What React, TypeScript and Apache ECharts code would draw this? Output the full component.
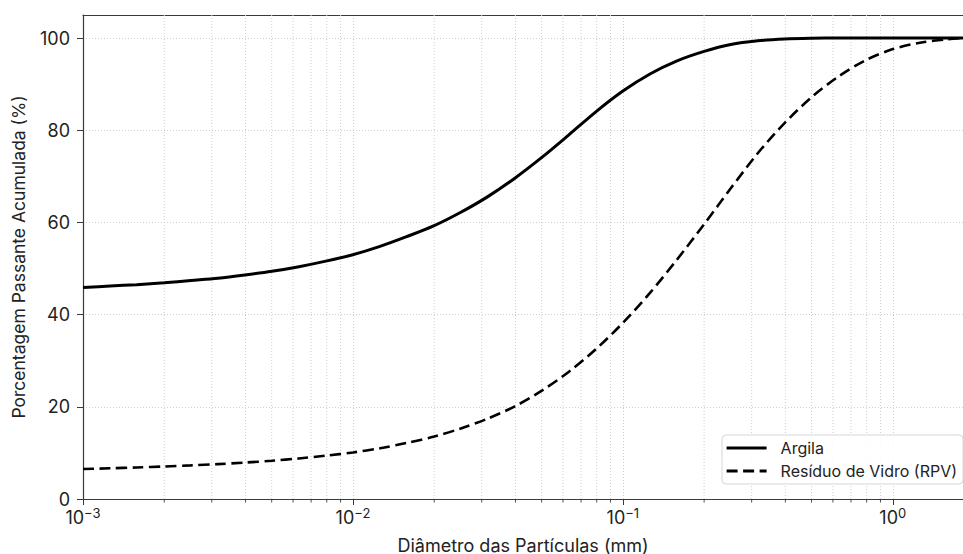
import React, { useEffect, useRef } from "react";
import * as echarts from "echarts";

const diametersArgila = [0.001, 0.00126, 0.00158, 0.002, 0.00251, 0.00316, 0.00398, 0.00501, 0.00631, 0.00794, 0.01, 0.0126, 0.0158, 0.02, 0.0251, 0.0316, 0.0398, 0.0501, 0.0631, 0.0794, 0.1, 0.126, 0.158, 0.2, 0.251, 0.316, 0.398, 0.501, 0.631, 1, 1.82];
const passingArgila = [45.9, 46.2, 46.5, 46.9, 47.4, 47.9, 48.6, 49.4, 50.4, 51.6, 53.0, 54.8, 56.9, 59.3, 62.2, 65.6, 69.6, 74.1, 79.0, 84.0, 88.5, 92.2, 95.0, 97.1, 98.6, 99.4, 99.8, 99.95, 100, 100, 100];

const diametersRPV = [0.001, 0.00126, 0.00158, 0.002, 0.00251, 0.00316, 0.00398, 0.00501, 0.00631, 0.00794, 0.01, 0.0126, 0.0158, 0.02, 0.0251, 0.0316, 0.0398, 0.0501, 0.0631, 0.0794, 0.1, 0.126, 0.158, 0.2, 0.251, 0.316, 0.398, 0.501, 0.631, 0.794, 1, 1.26, 1.58, 1.82];
const passingRPV = [6.5, 6.66, 6.84, 7.05, 7.29, 7.57, 7.9, 8.3, 8.8, 9.4, 10.1, 11.0, 12.15, 13.55, 15.3, 17.45, 20.1, 23.5, 27.6, 32.5, 38.2, 44.7, 51.8, 59.6, 67.4, 75.0, 81.6, 87.2, 91.7, 95.2, 97.6, 99.0, 99.7, 100];

const seriesNames = ["Argila", "Resíduo de Vidro (RPV)"];
const X_MIN = 0.001;
const X_MAX = 1.82;
const Y_MIN = 0;
const Y_MAX = 105;
const Y_INTERVAL = 20;
const decades = [0.001, 0.01, 0.1, 1];
const minorMultipliers = [2, 3, 4, 5, 6, 7, 8, 9];

const FONT = "Inter";

export default function App() {
  const ref = useRef<HTMLDivElement>(null);
  useEffect(() => {
    document.body.style.margin = "0";
    if (!ref.current) return;
    const chart = echarts.init(ref.current, undefined, { renderer: "svg" });
    const minorTicks: number[] = [];
    decades.forEach((d) =>
      minorMultipliers.forEach((m) => {
        const v = d * m;
        if (v > X_MIN && v < X_MAX) minorTicks.push(v);
      })
    );
    const gridColor = "#cfcfcf";
    const axisColor = "#3a3a3a";
    const textColor = "#222";
    const solidStyle = { color: "#000", width: 3, type: "solid" };
    const dashedStyle = { color: "#000", width: 2.6, type: [11, 5.5] };
    const option: any = {
      animation: false,
      textStyle: { fontFamily: FONT },
      grid: { left: 83, right: 0, top: 15, bottom: 55, containLabel: false, outerBoundsMode: "none" },
      legend: {
        data: [
          { name: seriesNames[0], lineStyle: { width: 3.2 } },
          { name: seriesNames[1], lineStyle: { width: 2.8 } },
        ],
        orient: "vertical",
        left: 722,
        top: 435,
        padding: [5, 6, 5, 3],
        itemWidth: 40,
        itemHeight: 14,
        itemGap: 7,
        itemStyle: { opacity: 0 },
        backgroundColor: "rgba(255,255,255,0.85)",
        borderColor: "#d6d6d6",
        borderWidth: 1,
        borderRadius: 4,
        textStyle: { fontFamily: FONT, fontSize: 16, color: textColor, padding: [0, 0, 0, 9] },
      },
      xAxis: [
        {
          type: "log",
          logBase: 10,
          min: X_MIN,
          max: X_MAX,
          name: "Diâmetro das Partículas (mm)",
          nameLocation: "middle",
          nameGap: 37,
          nameTextStyle: { fontFamily: FONT, fontSize: 18, color: textColor },
          axisLine: { show: true, lineStyle: { color: axisColor, width: 1.2 } },
          axisTick: { show: true, inside: false, length: 6, lineStyle: { color: axisColor } },
          axisLabel: {
            margin: 7,
            fontFamily: FONT,
            fontSize: 18,
            color: textColor,
            showMaxLabel: false,
            formatter: (v: number) => {
              const e = Math.round(Math.log10(v));
              if (Math.abs(Math.log10(v) - e) > 1e-6) return "";
              return `10{sup|${e < 0 ? "\u2212" + Math.abs(e) : e}}`;
            },
            rich: {
              sup: { fontSize: 13, verticalAlign: "top", padding: [0, 0, 9, 0], fontFamily: FONT, color: textColor },
            },
          },
          splitLine: { show: true, lineStyle: { color: gridColor, type: [1, 2], width: 1 } },
        },
        {
          type: "log",
          logBase: 10,
          min: X_MIN,
          max: X_MAX,
          position: "top",
          axisLine: { show: true, onZero: false, lineStyle: { color: axisColor, width: 1.2 } },
          axisTick: { show: false },
          axisLabel: { show: false },
          splitLine: { show: false },
        },
      ],
      yAxis: {
        type: "value",
        min: Y_MIN,
        max: Y_MAX,
        interval: Y_INTERVAL,
        name: "Porcentagem Passante Acumulada (%)",
        nameLocation: "middle",
        nameGap: 56,
        nameTextStyle: { fontFamily: FONT, fontSize: 17.5, color: textColor },
        axisLine: { show: true, lineStyle: { color: axisColor, width: 1.2 } },
        axisTick: { show: true, inside: false, length: 6, lineStyle: { color: axisColor } },
        axisLabel: {
          margin: 13,
          fontFamily: FONT,
          fontSize: 18,
          color: textColor,
          showMaxLabel: false,
          formatter: (v: number) => (v % Y_INTERVAL === 0 ? String(v) : ""),
        },
        splitLine: { show: true, lineStyle: { color: gridColor, type: [1, 2], width: 1 } },
      },
      series: [
        {
          type: "custom",
          xAxisIndex: 0,
          yAxisIndex: 0,
          silent: true,
          clip: false,
          z: 1,
          data: minorTicks.map((v) => [v]),
          encode: { x: 0 },
          renderItem: (params: any, api: any) => {
            const x = api.value(0);
            const top = api.coord([x, Y_MAX]);
            const bot = api.coord([x, Y_MIN]);
            return {
              type: "group",
              children: [
                {
                  type: "line",
                  shape: { x1: top[0], y1: top[1], x2: bot[0], y2: bot[1] },
                  style: { stroke: gridColor, lineWidth: 1, lineDash: [1, 2] },
                },
                {
                  type: "line",
                  shape: { x1: bot[0], y1: bot[1], x2: bot[0], y2: bot[1] + 3.5 },
                  style: { stroke: axisColor, lineWidth: 0.9 },
                },
              ],
            };
          },
        },
        {
          name: seriesNames[0],
          type: "line",
          data: diametersArgila.map((d, i) => [d, passingArgila[i]]),
          showSymbol: false,
          symbol: "none",
          smooth: 0.3,
          z: 3,
          lineStyle: solidStyle,
          itemStyle: { color: "#000" },
        },
        {
          name: seriesNames[1],
          type: "line",
          data: diametersRPV.map((d, i) => [d, passingRPV[i]]),
          showSymbol: false,
          symbol: "none",
          smooth: 0.3,
          z: 3,
          lineStyle: dashedStyle,
          itemStyle: { color: "#000" },
        },
      ],
    };
    chart.setOption(option);
    return () => chart.dispose();
  }, []);
  return <div ref={ref} style={{ width: 963, height: 554 }} />;
}
